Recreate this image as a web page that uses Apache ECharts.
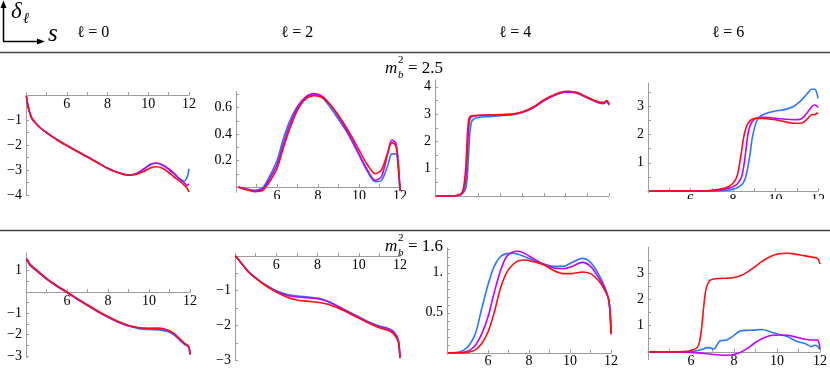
<!DOCTYPE html>
<html>
<head>
<meta charset="utf-8">
<script src="https://cdn.jsdelivr.net/npm/echarts@6/dist/echarts.min.js"></script>
<style>
  html, body { margin: 0; padding: 0; background: #fff; }
  #chart { width: 830px; height: 369px; }
</style>
</head>
<body>
<div id="chart"></div>
<script>
// column headings and row headings
const ellLabels = ['ℓ = 0', 'ℓ = 2', 'ℓ = 4', 'ℓ = 6'];
const massValues = ['2.5', '1.6'];

// shared x axis ticks
const xTicks = [4, 5, 6, 7, 8, 9, 10, 11, 12];
const xLabels = [6, 8, 10, 12];

// ---- row A : m_b^2 = 2.5 ----
// l = 0
const sA0 = [4.02, 4.1, 4.2, 4.3, 4.5, 4.75, 5, 5.5, 6, 6.5, 7, 7.5, 8, 8.5, 9, 9.4, 9.8, 10.1, 10.4, 10.7, 11, 11.3, 11.55, 11.75, 11.9, 12];
const blueA0 = [-0.05, -0.45, -0.75, -0.95, -1.15, -1.35, -1.5, -1.78, -2.02, -2.25, -2.47, -2.7, -2.93, -3.1, -3.2, -3.15, -2.95, -2.78, -2.73, -2.8, -2.95, -3.15, -3.35, -3.44, -3.3, -2.95];
const magentaA0 = [-0.05, -0.45, -0.75, -0.95, -1.15, -1.35, -1.5, -1.78, -2.02, -2.25, -2.47, -2.7, -2.93, -3.1, -3.2, -3.15, -2.95, -2.78, -2.72, -2.8, -2.97, -3.18, -3.38, -3.5, -3.62, -3.55];
const redA0 = [-0.05, -0.45, -0.75, -0.95, -1.15, -1.35, -1.5, -1.78, -2.02, -2.25, -2.47, -2.7, -2.93, -3.1, -3.21, -3.18, -3.05, -2.92, -2.87, -2.93, -3.1, -3.3, -3.45, -3.6, -3.72, -3.88];
const yTicksA0 = [-4, -3.5, -3, -2.5, -2, -1.5, -1, -0.5, 0];
const yLabelsA0 = [-4, -3, -2, -1];

// l = 2
const sA2 = [4.1, 4.5, 4.9, 5.3, 5.6, 6, 6.3, 6.6, 7, 7.4, 7.8, 8.2, 8.6, 9, 9.5, 10, 10.4, 10.8, 11.1, 11.4, 11.6, 11.8, 11.92, 12];
const blueA2 = [0, -0.015, -0.025, -0.005, 0.07, 0.2, 0.36, 0.49, 0.61, 0.675, 0.695, 0.675, 0.6, 0.51, 0.39, 0.24, 0.12, 0.04, 0.05, 0.16, 0.25, 0.25, 0.13, -0.03];
const magentaA2 = [0, -0.015, -0.03, -0.015, 0.05, 0.17, 0.32, 0.46, 0.6, 0.68, 0.705, 0.685, 0.62, 0.53, 0.4, 0.25, 0.13, 0.05, 0.08, 0.25, 0.355, 0.33, 0.17, -0.03];
const redA2 = [0, -0.02, -0.035, -0.025, 0.03, 0.14, 0.29, 0.43, 0.58, 0.665, 0.69, 0.675, 0.62, 0.54, 0.42, 0.28, 0.17, 0.1, 0.13, 0.26, 0.335, 0.31, 0.16, -0.03];
const yTicksA2 = [0.1, 0.2, 0.3, 0.4, 0.5, 0.6, 0.7];
const yLabelsA2 = [0.2, 0.4, 0.6];

// l = 4
const sA4 = [4.05, 4.5, 5, 5.2, 5.3, 5.4, 5.45, 5.5, 5.55, 5.6, 5.65, 5.7, 5.8, 5.9, 6, 6.5, 7, 7.5, 8, 8.5, 9, 9.5, 10, 10.5, 11, 11.5, 11.75, 11.9, 12];
const blueA4 = [0, 0, 0.01, 0.05, 0.12, 0.25, 0.45, 0.9, 1.6, 2.3, 2.6, 2.75, 2.83, 2.86, 2.88, 2.91, 2.94, 2.97, 3.05, 3.22, 3.48, 3.68, 3.8, 3.77, 3.6, 3.42, 3.38, 3.45, 3.33];
const magentaA4 = [0, 0, 0.02, 0.07, 0.18, 0.5, 1.0, 1.8, 2.5, 2.8, 2.88, 2.92, 2.93, 2.94, 2.95, 2.96, 2.97, 2.99, 3.07, 3.23, 3.5, 3.7, 3.82, 3.78, 3.6, 3.43, 3.4, 3.47, 3.35];
const redA4 = [0, 0, 0.02, 0.08, 0.25, 0.9, 1.6, 2.4, 2.8, 2.9, 2.93, 2.94, 2.95, 2.95, 2.96, 2.97, 2.98, 3.0, 3.08, 3.25, 3.52, 3.72, 3.84, 3.8, 3.62, 3.45, 3.43, 3.5, 3.35];
const yTicksA4 = [0.5, 1, 1.5, 2, 2.5, 3, 3.5, 4];
const yLabelsA4 = [1, 2, 3, 4];

// l = 6
const sA6 = [4.05, 5, 6, 6.5, 7, 7.4, 7.7, 8, 8.2, 8.4, 8.5, 8.6, 8.7, 8.8, 8.9, 9, 9.1, 9.2, 9.4, 9.7, 10, 10.4, 10.8, 11.2, 11.5, 11.7, 11.85, 11.95, 12];
const blueA6 = [0, 0, 0, 0, 0.005, 0.015, 0.03, 0.07, 0.12, 0.22, 0.32, 0.5, 0.85, 1.3, 1.85, 2.2, 2.45, 2.58, 2.7, 2.78, 2.83, 2.88, 2.97, 3.2, 3.45, 3.6, 3.6, 3.45, 3.28];
const magentaA6 = [0, 0, 0, 0.005, 0.015, 0.04, 0.08, 0.15, 0.25, 0.5, 0.85, 1.4, 2.0, 2.3, 2.45, 2.53, 2.58, 2.6, 2.61, 2.6, 2.57, 2.55, 2.52, 2.55, 2.78, 2.98, 3.04, 3.0, 2.95];
const redA6 = [0, 0, 0, 0.01, 0.03, 0.07, 0.13, 0.28, 0.55, 1.4, 1.9, 2.2, 2.38, 2.48, 2.54, 2.56, 2.57, 2.57, 2.57, 2.55, 2.52, 2.46, 2.4, 2.4, 2.55, 2.7, 2.7, 2.76, 2.72];
const yTicksA6 = [0.5, 1, 1.5, 2, 2.5, 3, 3.5];
const yLabelsA6 = [1, 2, 3];

// ---- row B : m_b^2 = 1.6 ----
// l = 0
const sB0 = [4.03, 4.2, 4.5, 5, 5.5, 6, 6.5, 7, 7.5, 8, 8.5, 9, 9.5, 10, 10.5, 10.9, 11.2, 11.5, 11.75, 11.9, 11.96, 12];
const blueB0 = [1.52, 1.25, 1.0, 0.6, 0.27, -0.03, -0.34, -0.64, -0.93, -1.19, -1.42, -1.6, -1.72, -1.76, -1.78, -1.85, -2.0, -2.27, -2.48, -2.55, -2.62, -2.9];
const magentaB0 = [1.55, 1.28, 1.02, 0.62, 0.28, -0.02, -0.33, -0.63, -0.92, -1.18, -1.41, -1.59, -1.68, -1.7, -1.69, -1.78, -1.95, -2.22, -2.44, -2.53, -2.63, -2.92];
const redB0 = [1.58, 1.3, 1.05, 0.64, 0.3, 0, -0.31, -0.6, -0.89, -1.15, -1.38, -1.57, -1.68, -1.72, -1.73, -1.8, -1.95, -2.2, -2.42, -2.52, -2.65, -2.95];
const yTicksB0 = [-3, -2.5, -2, -1.5, -1, -0.5, 0.5, 1, 1.5];
const yLabelsB0 = [-3, -2, -1, 1];

// l = 2
const sB2 = [4.03, 4.3, 4.65, 5, 5.4, 6, 6.5, 7, 7.5, 8, 8.5, 9, 9.5, 10, 10.5, 11, 11.4, 11.65, 11.82, 11.93, 12];
const blueB2 = [0, -0.2, -0.45, -0.63, -0.8, -1.0, -1.1, -1.15, -1.18, -1.21, -1.3, -1.45, -1.6, -1.75, -1.9, -2.02, -2.08, -2.15, -2.28, -2.45, -2.92];
const magentaB2 = [0, -0.2, -0.45, -0.63, -0.81, -1.02, -1.13, -1.18, -1.2, -1.23, -1.31, -1.46, -1.62, -1.77, -1.92, -2.04, -2.1, -2.18, -2.3, -2.47, -2.93];
const redB2 = [0, -0.2, -0.46, -0.64, -0.82, -1.04, -1.18, -1.27, -1.3, -1.33, -1.39, -1.5, -1.64, -1.79, -1.94, -2.07, -2.14, -2.22, -2.35, -2.5, -2.95];
const yTicksB2 = [-3, -2.5, -2, -1.5, -1, -0.5, 0];
const yLabelsB2 = [-3, -2, -1];

// l = 4
const sB4 = [4.05, 4.5, 4.8, 5.1, 5.4, 5.7, 6, 6.3, 6.6, 6.9, 7.2, 7.5, 7.8, 8.2, 8.7, 9.2, 9.65, 10.1, 10.6, 11, 11.4, 11.7, 11.88, 11.96, 12];
const blueB4 = [0, 0.005, 0.03, 0.1, 0.25, 0.56, 0.85, 1.08, 1.2, 1.24, 1.245, 1.23, 1.2, 1.16, 1.11, 1.08, 1.08, 1.13, 1.18, 1.13, 0.98, 0.82, 0.68, 0.5, 0.25];
const magentaB4 = [0, 0, 0.005, 0.03, 0.1, 0.24, 0.45, 0.75, 1.02, 1.2, 1.26, 1.27, 1.24, 1.18, 1.11, 1.06, 1.05, 1.08, 1.13, 1.08, 0.94, 0.8, 0.67, 0.48, 0.24];
const redB4 = [0, 0, 0, 0.01, 0.04, 0.12, 0.26, 0.5, 0.8, 1.0, 1.1, 1.15, 1.16, 1.14, 1.1, 1.03, 0.99, 0.99, 1.01, 0.99, 0.9, 0.78, 0.67, 0.48, 0.23];
const yTicksB4 = [0.1, 0.2, 0.3, 0.4, 0.5, 0.6, 0.7, 0.8, 0.9, 1, 1.1, 1.2, 1.3];
const yLabelsB4 = [0.5, 1];

// l = 6
const sB6 = [4.05, 5, 5.8, 6.1, 6.3, 6.4, 6.5, 6.6, 6.7, 6.85, 7.05, 7.35, 7.65, 7.95, 8.3, 8.6, 8.9, 9.3, 9.7, 10.1, 10.5, 10.9, 11.3, 11.6, 11.75, 11.9, 12];
const blueB6 = [0, 0, 0, 0.02, 0.05, 0.07, 0.09, 0.12, 0.15, 0.16, 0.1, 0.42, 0.45, 0.6, 0.8, 0.82, 0.83, 0.85, 0.76, 0.66, 0.58, 0.4, 0.32, 0.2, 0.25, 0.2, 0.08];
const magentaB6 = [0, 0, -0.01, -0.03, -0.04, -0.05, -0.05, -0.06, -0.07, -0.08, -0.1, -0.12, -0.13, -0.11, -0.02, 0.12, 0.3, 0.5, 0.62, 0.64, 0.63, 0.56, 0.48, 0.45, 0.45, 0.44, 0.12];
const redB6 = [0, 0, 0.02, 0.08, 0.18, 0.4, 0.95, 1.8, 2.4, 2.7, 2.78, 2.8, 2.81, 2.83, 2.9, 3.03, 3.2, 3.45, 3.64, 3.74, 3.76, 3.72, 3.66, 3.62, 3.6, 3.55, 3.35];
const yTicksB6 = [0.5, 1, 1.5, 2, 2.5, 3, 3.5];
const yLabelsB6 = [1, 2, 3];

const BLUE = '#2a78ff';
const MAGENTA = '#c400ff';
const RED = '#ff0d12';
const AXIS = '#9c9c9c';
const SERIF = "'Liberation Serif', 'Times New Roman', 'DejaVu Serif', serif";

// panel layout: grid box in px and y range
const panels = [
  { s: sA0, b: blueA0, m: magentaA0, r: redA0, yt: yTicksA0, yl: yLabelsA0, box: [26, 92.5, 163, 102.5], y: [-4, 0.1] },
  { s: sA2, b: blueA2, m: magentaA2, r: redA2, yt: yTicksA2, yl: yLabelsA2, box: [236, 91.6, 164, 100.7], y: [-0.04, 0.72] },
  { s: sA4, b: blueA4, m: magentaA4, r: redA4, yt: yTicksA4, yl: yLabelsA4, box: [435, 80, 174, 117.4], y: [-0.05, 4.25] },
  { s: sA6, b: blueA6, m: magentaA6, r: redA6, yt: yTicksA6, yl: yLabelsA6, box: [648, 83, 170, 109.5], y: [-0.05, 3.82] },
  { s: sB0, b: blueB0, m: magentaB0, r: redB0, yt: yTicksB0, yl: yLabelsB0, box: [26, 253, 164, 105], y: [-3.1, 1.83] },
  { s: sB2, b: blueB2, m: magentaB2, r: redB2, yt: yTicksB2, yl: yLabelsB2, box: [235, 254.3, 165, 105.8], y: [-3.0, 0.05] },
  { s: sB4, b: blueB4, m: magentaB4, r: redB4, yt: yTicksB4, yl: yLabelsB4, box: [447, 248, 164, 106.4], y: [-0.02, 1.31], dot: true },
  { s: sB6, b: blueB6, m: magentaB6, r: redB6, yt: yTicksB6, yl: yLabelsB6, box: [648, 247, 172, 112.7], y: [-0.3, 4.0] }
];

function fmt(v, dot) {
  if (dot && v === 1) return '1.';
  return v < 0 ? '\u2212' + String(-v) : String(v);
}

const grid = [], xAxis = [], yAxis = [], series = [];
panels.forEach((p, i) => {
  const h = p.box[3];
  // move the s axis up from the grid bottom to where delta = 0
  const zeroOffset = -h * (0 - p.y[0]) / (p.y[1] - p.y[0]);
  grid.push({ left: p.box[0], top: p.box[1], width: p.box[2], height: h, containLabel: false });
  xAxis.push({
    gridIndex: i, type: 'value', min: 4, max: 12, position: 'bottom', offset: zeroOffset,
    axisLine: { onZero: false, lineStyle: { color: AXIS, width: 1 } },
    axisTick: { inside: true, length: 3, customValues: xTicks, lineStyle: { color: AXIS } },
    axisLabel: { customValues: xLabels, color: '#000', fontFamily: SERIF, fontSize: 14, margin: 2 },
    splitLine: { show: false }
  });
  yAxis.push({
    gridIndex: i, type: 'value', min: p.y[0], max: p.y[1],
    axisLine: { onZero: false, lineStyle: { color: AXIS, width: 1 } },
    axisTick: { inside: true, length: 3, customValues: p.yt, lineStyle: { color: AXIS } },
    axisLabel: {
      customValues: p.yl, color: '#000', fontFamily: SERIF, fontSize: 14, margin: 4,
      formatter: (v) => fmt(v, p.dot)
    },
    splitLine: { show: false }
  });
  [[p.b, BLUE], [p.m, MAGENTA], [p.r, RED]].forEach(([vals, color]) => {
    series.push({
      type: 'line', xAxisIndex: i, yAxisIndex: i,
      data: p.s.map((x, k) => [x, vals[k]]),
      showSymbol: false, symbol: 'none', smooth: 0.3,
      lineStyle: { color: color, width: 1.6 },
      animation: false
    });
  });
});

// header, separators and row titles
const headX = [93, 297, 515, 728];
const F = '"Liberation Serif", "Times New Roman", serif';
const graphic = [
  // the upper row is cropped just under its axes
  { type: 'rect', z: 100, shape: { x: 0, y: 199, width: 830, height: 30 }, style: { fill: '#fff' } },
  { type: 'line', z: 101, shape: { x1: 0, y1: 52.5, x2: 830, y2: 52.5 }, style: { stroke: '#444', lineWidth: 1.3 } },
  { type: 'line', z: 101, shape: { x1: 0, y1: 230.5, x2: 830, y2: 230.5 }, style: { stroke: '#444', lineWidth: 1.3 } },
  { type: 'line', z: 101, shape: { x1: 3.5, y1: 41.5, x2: 3.5, y2: 6 }, style: { stroke: '#000', lineWidth: 1.5 } },
  { type: 'line', z: 101, shape: { x1: 3, y1: 41.5, x2: 39, y2: 41.5 }, style: { stroke: '#000', lineWidth: 1.5 } },
  { type: 'polygon', z: 101, shape: { points: [[0.5, 8], [3.5, 0.5], [6.5, 8]] }, style: { fill: '#000' } },
  { type: 'polygon', z: 101, shape: { points: [[37, 38.5], [45, 41.5], [37, 44.5]] }, style: { fill: '#000' } },
  { type: 'text', z: 101, x: 11, y: 0, style: { text: 'δ', font: 'italic 23px ' + F, fill: '#000' } },
  { type: 'text', z: 101, x: 23, y: 12, style: { text: 'ℓ', font: 'italic 15px ' + F, fill: '#000' } },
  { type: 'text', z: 101, x: 48, y: 22, style: { text: 's', font: 'italic 25px ' + F, fill: '#000' } }
];
ellLabels.forEach((t, i) => {
  graphic.push({ type: 'text', z: 101, x: headX[i], y: 33,
    style: { text: t, font: '16px ' + F, fill: '#000', align: 'center', verticalAlign: 'middle' } });
});
[69, 247].forEach((cy, i) => {
  graphic.push(
    { type: 'text', z: 101, x: 385, y: cy, style: { text: 'm', font: 'italic 17px ' + F, fill: '#000', verticalAlign: 'middle' } },
    { type: 'text', z: 101, x: 398, y: cy - 9, style: { text: '2', font: '11px ' + F, fill: '#000', verticalAlign: 'middle' } },
    { type: 'text', z: 101, x: 398, y: cy + 6, style: { text: 'b', font: 'italic 11px ' + F, fill: '#000', verticalAlign: 'middle' } },
    { type: 'text', z: 101, x: 408, y: cy, style: { text: '= ' + massValues[i], font: '17px ' + F, fill: '#000', verticalAlign: 'middle' } }
  );
});

const chart = echarts.init(document.getElementById('chart'));
chart.setOption({
  animation: false,
  backgroundColor: '#fff',
  grid: grid,
  xAxis: xAxis,
  yAxis: yAxis,
  series: series,
  graphic: graphic
});
</script>
</body>
</html>
